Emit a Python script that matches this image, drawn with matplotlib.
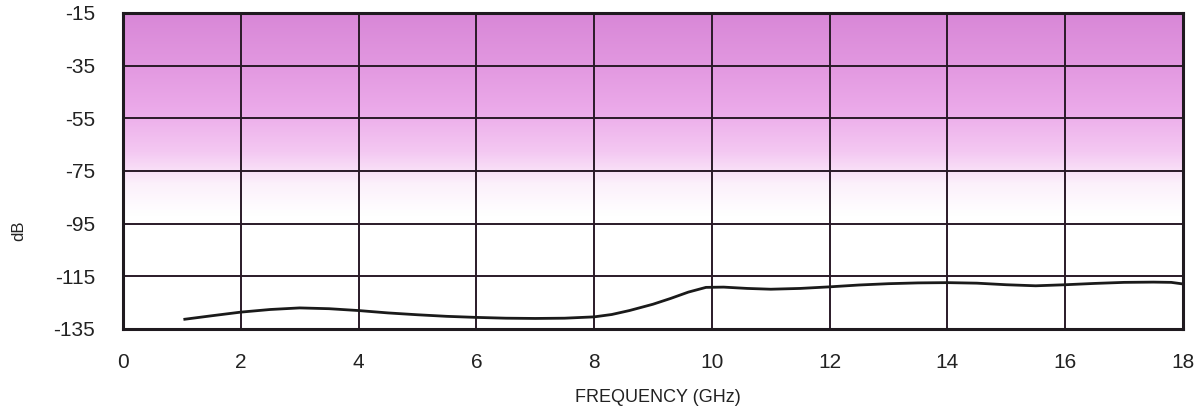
import numpy as np
import matplotlib.pyplot as plt
from matplotlib.colors import LinearSegmentedColormap

plt.rcParams["axes.unicode_minus"] = False

# curve (GHz, dB)
freq_ghz = [1.05, 1.5, 2.0, 2.5, 3.0, 3.5, 4.0, 4.5, 5.0, 5.5, 6.0, 6.5, 7.0, 7.5,
            8.0, 8.3, 8.6, 9.0, 9.3, 9.6, 9.9, 10.2, 10.6, 11.0, 11.5, 12.0, 12.5,
            13.0, 13.5, 14.0, 14.5, 15.0, 15.5, 16.0, 16.5, 17.0, 17.5, 17.8, 18.0]
level_db = [-131.3, -130.0, -128.6, -127.6, -127.0, -127.3, -128.0, -128.9, -129.6, -130.2,
            -130.6, -130.9, -131.0, -130.9, -130.4, -129.5, -128.0, -125.6, -123.4, -121.0,
            -119.2, -119.1, -119.6, -119.9, -119.6, -119.0, -118.3, -117.8, -117.5, -117.4,
            -117.6, -118.2, -118.6, -118.2, -117.7, -117.3, -117.2, -117.3, -117.9]

x_ticks = [0, 2, 4, 6, 8, 10, 12, 14, 16, 18]
y_ticks = [-15, -35, -55, -75, -95, -115, -135]

fig = plt.figure(figsize=(12.01, 4.12), dpi=100)
ax = fig.add_axes([0.1024, 0.2015, 0.8826, 0.767])
ax.set_xlim(0, 18)
ax.set_ylim(-135, -15)

# magenta wash at top fading to white
cmap = LinearSegmentedColormap.from_list(
    "wash", [(0.0, "#ffffff"), (0.36, "#ffffff"), (0.46, "#fcf0fb"),
             (0.56, "#f4c8f2"), (0.7, "#eba9e9"), (0.85, "#e196df"),
             (1.0, "#d887d7")])
grad = np.linspace(0, 1, 256).reshape(-1, 1)
ax.imshow(grad, aspect="auto", cmap=cmap, origin="lower",
          extent=[0, 18, -135, -15], zorder=0)

for x in x_ticks[1:-1]:
    ax.axvline(x, color="#2a1a28", lw=1.4, zorder=1)
for y in y_ticks[1:-1]:
    ax.axhline(y, color="#2a1a28", lw=1.4, zorder=1)

ax.plot(freq_ghz, level_db, color="#1a1a1a", lw=2, zorder=2)

for s in ax.spines.values():
    s.set_linewidth(2.2)
    s.set_color("#1f1a1f")

ax.set_xticks(x_ticks)
ax.set_yticks(y_ticks)
ax.tick_params(length=0, labelsize=15, pad=17, colors="#222222")
ax.tick_params(axis="y", pad=20)
for t in ax.get_xticklabels() + ax.get_yticklabels():
    t.set_family("Liberation Sans")

fig.text(0.016, 0.44, "dB", rotation=90, fontsize=12, va="center", ha="center",
         family="Liberation Sans", color="#222222")
fig.text(0.548, 0.035, "FREQUENCY (GHz)", fontsize=13, va="center", ha="center",
         family="Liberation Sans", color="#222222")

fig.savefig("out.png", dpi=100)
